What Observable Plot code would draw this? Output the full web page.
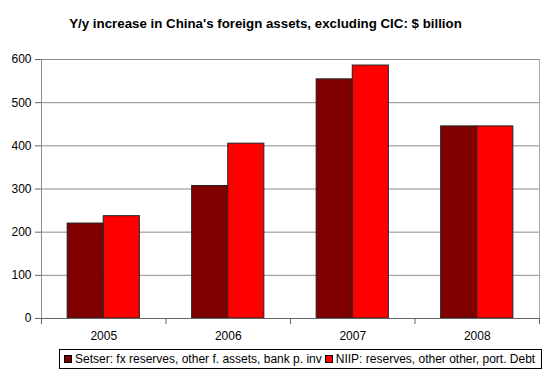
<!DOCTYPE html>
<html>
<head>
<meta charset="utf-8">
<script src="https://cdn.jsdelivr.net/npm/d3@7"></script>
<script src="https://cdn.jsdelivr.net/npm/@observablehq/plot@0.6"></script>
<style>
  body { margin: 0; background: #fff; font-family: Arial, "Liberation Sans", sans-serif; }
  #wrap { width: 547px; height: 374px; position: relative; overflow: hidden; }
  #title { height: 40px; line-height: 48px; font-weight: bold; font-size: 13.3px; text-align: center; padding-right: 16px; color: #000; }
  #legend { position: absolute; left: 59px; top: 349px; height: 18px; border: 1px solid #000; display: flex; align-items: center; font-size: 12px; padding: 0 3px 0 4px; white-space: nowrap; color: #000; background: #fff; }
  .sw { display: inline-block; width: 6px; height: 6px; border: 1px solid #000; margin-right: 3px; }
  .item { display: flex; align-items: center; margin-right: 3px; }
</style>
</head>
<body>
<div id="wrap">
  <div id="title">Y/y increase in China's foreign assets, excluding CIC: $ billion</div>
  <div id="chart"></div>
  <div id="legend"></div>
</div>
<script>
const years = [2005, 2006, 2007, 2008];
const seriesNames = ["Setser: fx reserves, other f. assets, bank p. inv", "NIIP: reserves, other other, port. Debt"];
const setser = [220, 307, 554, 445];
const niip = [237, 405, 586, 445];
const colors = ["#800000", "#ff0000"];
const yTicks = [0, 100, 200, 300, 400, 500, 600];

const barHalf = 0.29;
const data = [];
years.forEach((yr, i) => {
  data.push({year: yr, series: seriesNames[0], value: setser[i], x1: yr - barHalf, x2: yr});
  data.push({year: yr, series: seriesNames[1], value: niip[i], x1: yr, x2: yr + barHalf});
});
const boundaries = [years[0] - 0.5, ...years.map(y => y + 0.5)];

const plot = Plot.plot({
  width: 547,
  height: 308,
  marginTop: 19,
  marginBottom: 30,
  marginLeft: 41,
  marginRight: 8,
  style: {fontFamily: "Arial, 'Liberation Sans', sans-serif", fontSize: "12px", color: "#000", background: "#fff"},
  x: {domain: [years[0] - 0.5, years[years.length - 1] + 0.5]},
  y: {domain: [0, 600]},
  color: {domain: seriesNames, range: colors},
  marks: [
    Plot.gridY(yTicks, {stroke: "#8c8c8c", strokeOpacity: 1}),
    Plot.ruleX([years[years.length - 1] + 0.5], {stroke: "#a8a8a8"}),
    Plot.rectY(data, {x1: "x1", x2: "x2", y: "value", fill: "series", stroke: "#222", strokeWidth: 1}),
    Plot.ruleX([years[0] - 0.5], {stroke: "#8c8c8c"}),
    Plot.ruleY([0], {stroke: "#666"}),
    Plot.axisY(yTicks, {tickSize: 6, tickPadding: 4, stroke: "#666", label: null}),
    Plot.axisX(boundaries, {tickSize: 6, tickFormat: () => "", stroke: "#666", label: null}),
    Plot.axisX(years, {tickSize: 0, tickPadding: 13, tickFormat: d => String(d), label: null})
  ]
});
document.getElementById("chart").appendChild(plot);

const legend = document.getElementById("legend");
seriesNames.forEach((name, i) => {
  const item = document.createElement("span");
  item.className = "item";
  const sw = document.createElement("span");
  sw.className = "sw";
  sw.style.background = colors[i];
  item.appendChild(sw);
  item.appendChild(document.createTextNode(name));
  legend.appendChild(item);
});
</script>
</body>
</html>
